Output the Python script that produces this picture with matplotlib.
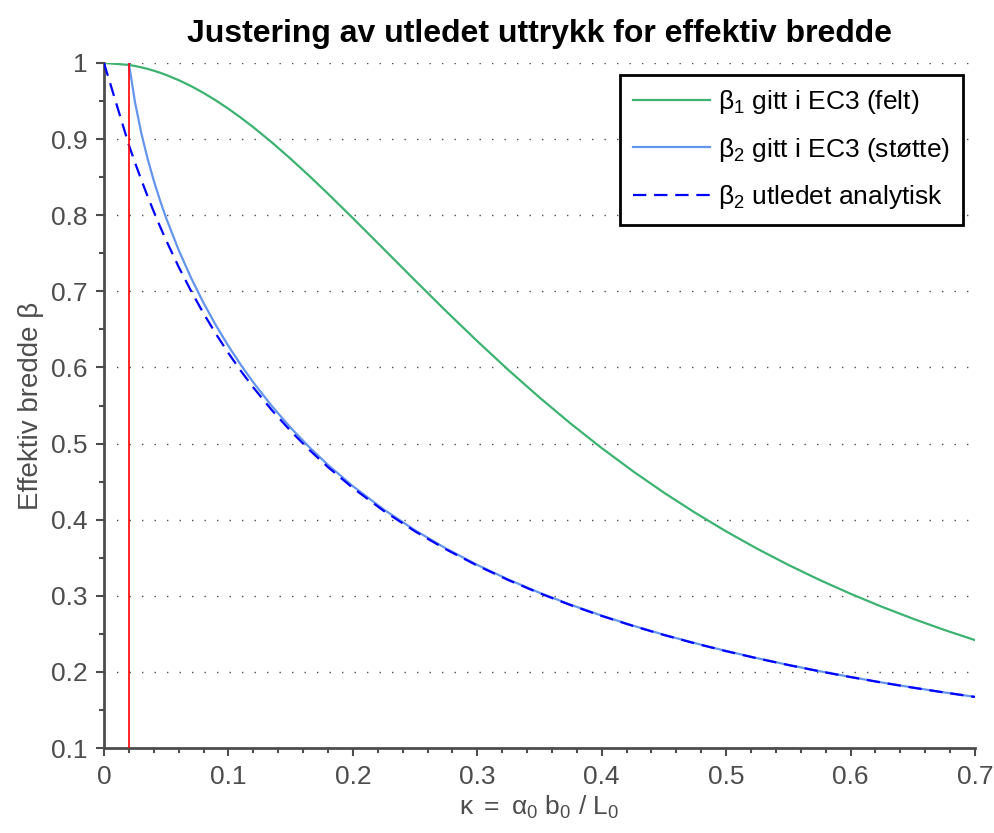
import matplotlib
matplotlib.use("Agg")
import matplotlib.pyplot as plt
from matplotlib.ticker import MultipleLocator

plt.rcParams['font.family'] = ['Liberation Sans', 'DejaVu Sans']
plt.rcParams['mathtext.fontset'] = 'custom'
plt.rcParams['mathtext.rm'] = 'Liberation Sans'
plt.rcParams['mathtext.it'] = 'Liberation Sans'
plt.rcParams['mathtext.bf'] = 'Liberation Sans:bold'

# Shear-lag parameter kappa and effective-width factors
kappa = [0.02, 0.025, 0.03, 0.035, 0.04, 0.045, 0.05, 0.06, 0.07, 0.08,
         0.09, 0.10, 0.11, 0.12, 0.135, 0.15, 0.165, 0.18, 0.20, 0.225,
         0.25, 0.275, 0.30, 0.325, 0.35, 0.375, 0.40, 0.425, 0.45, 0.475,
         0.50, 0.525, 0.55, 0.575, 0.60, 0.625, 0.65, 0.675, 0.70]

beta1_ec3 = [0.99745, 0.99602, 0.99427, 0.99222, 0.98986, 0.98721, 0.98425,
             0.97748, 0.96960, 0.96065, 0.95071, 0.93985, 0.92813, 0.91562,
             0.89554, 0.87413, 0.85162, 0.82826, 0.79618, 0.75529, 0.71429,
             0.67385, 0.63452, 0.59666, 0.56054, 0.52632, 0.49407, 0.46382,
             0.43554, 0.40917, 0.38462, 0.36179, 0.34060, 0.32092, 0.30266,
             0.28571, 0.26998, 0.25536, 0.24178]

beta2_ec3 = [0.99936, 0.94787, 0.90790, 0.87459, 0.84562, 0.81973, 0.79618,
             0.75428, 0.71759, 0.68482, 0.65519, 0.62814, 0.60330, 0.58037,
             0.54903, 0.52083, 0.49529, 0.47203, 0.44405, 0.41317, 0.38604,
             0.36202, 0.34060, 0.32138, 0.30403, 0.28830, 0.27397, 0.26087,
             0.24884, 0.23776, 0.22752, 0.21804, 0.20922, 0.20101, 0.19335,
             0.18618, 0.17946, 0.17315, 0.16721]

beta2_analytic = [0.89235, 0.86881, 0.84643, 0.82511, 0.80479, 0.78540, 0.76687,
                  0.73219, 0.70036, 0.67103, 0.64393, 0.61881, 0.59546, 0.57371,
                  0.54373, 0.51653, 0.49175, 0.46908, 0.44170, 0.41135, 0.38462,
                  0.36088, 0.33967, 0.32062, 0.30340, 0.28777, 0.27352, 0.26048,
                  0.24851, 0.23747, 0.22727, 0.21782, 0.20903, 0.20084, 0.19320,
                  0.18605, 0.17934, 0.17304, 0.16711]

kappa_start = 0.0
beta_start = 1.0
kappa_limit = 0.02

x_ticks = [0, 0.1, 0.2, 0.3, 0.4, 0.5, 0.6, 0.7]
x_tick_labels = ['0', '0.1', '0.2', '0.3', '0.4', '0.5', '0.6', '0.7']
y_ticks = [0.1, 0.2, 0.3, 0.4, 0.5, 0.6, 0.7, 0.8, 0.9, 1.0]
y_tick_labels = ['0.1', '0.2', '0.3', '0.4', '0.5', '0.6', '0.7', '0.8', '0.9', '1']

axis_grey = '#4d4d4d'

fig = plt.figure(figsize=(9.95, 8.33), dpi=100)
ax = fig.add_axes([0.1045, 0.102, 0.8754, 0.8224])

ax.plot([kappa_start] + kappa, [beta_start] + beta1_ec3, color='#3cb371', lw=1.6,
        label=r'$\mathregular{β_1}$ gitt i EC3 (felt)', zorder=3)
ax.plot(kappa, beta2_ec3, color='#6495ed', lw=1.6,
        label=r'$\mathregular{β_2}$ gitt i EC3 (støtte)', zorder=4)
ax.plot([kappa_start] + kappa, [beta_start] + beta2_analytic, color='#0000ff', lw=1.6,
        linestyle=(0, (6, 3.5)),
        label=r'$\mathregular{β_2}$ utledet analytisk', zorder=5)
ax.plot([kappa_limit, kappa_limit], [0.1, 1.0], color='#ff0000', lw=1.2, zorder=6)

ax.set_xlim(0, 0.7)
ax.set_ylim(0.1, 1.0)
ax.set_xticks(x_ticks)
ax.set_xticklabels(x_tick_labels)
ax.set_yticks(y_ticks)
ax.set_yticklabels(y_tick_labels)
ax.xaxis.set_minor_locator(MultipleLocator(0.02))
ax.yaxis.set_minor_locator(MultipleLocator(0.05))

ax.grid(axis='y', which='major', color=axis_grey, linestyle=(0, (1, 8)), lw=1.0)
ax.set_axisbelow(True)

for side in ('top', 'right'):
    ax.spines[side].set_visible(False)
for side in ('left', 'bottom'):
    ax.spines[side].set_color(axis_grey)
    ax.spines[side].set_linewidth(2.0)

ax.tick_params(axis='both', which='major', direction='out', length=6, width=1.5,
               color=axis_grey, labelcolor=axis_grey, labelsize=19, pad=6)
ax.tick_params(axis='both', which='minor', direction='out', length=3.5, width=1.5,
               color=axis_grey)

ax.set_xlabel(r'$\mathregular{κ\ =\ α_0\ b_0\ /\ L_0}$', fontsize=19, color=axis_grey,
              labelpad=4)
ax.set_ylabel('Effektiv bredde β', fontsize=20, color=axis_grey, labelpad=5)
ax.set_title('Justering av utledet uttrykk for effektiv bredde', fontsize=23,
             fontweight='bold', color='black', pad=15)

leg = ax.legend(loc='upper right', bbox_to_anchor=(0.986, 0.983), fontsize=19,
                frameon=True, fancybox=False, framealpha=1.0, edgecolor='black',
                handlelength=2.9, handletextpad=0.3, labelspacing=0.75,
                borderpad=0.5, borderaxespad=0.0)
leg.get_frame().set_linewidth(2.0)
for txt in leg.get_texts():
    txt.set_color('black')

fig.savefig('out.png', dpi=100)
